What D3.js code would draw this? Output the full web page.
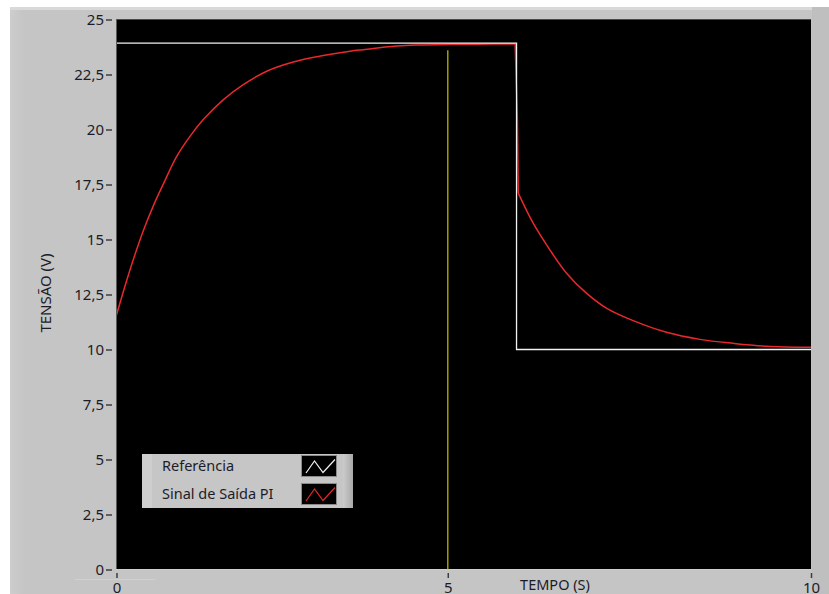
<!DOCTYPE html>
<html>
<head>
<meta charset="utf-8">
<script src="https://cdn.jsdelivr.net/npm/d3@7"></script>
<style>
  html, body { margin: 0; padding: 0; background: #ffffff; }
  svg { display: block; }
  text { font-family: "Noto Sans", "Open Sans", sans-serif; }
</style>
</head>
<body>
<svg id="chart" width="829" height="594"></svg>
<script>
// Setpoint (reference) signal: step from ~24 V down to 10 V
const refTime  = [0, 5.76, 5.76, 10];
const refValue = [23.93, 23.93, 10, 10];

// PI controller output samples
const piTime  = [0, 0.12, 0.24, 0.386, 0.53, 0.674, 0.867, 1.058, 1.25, 1.54, 1.826,
                 2.163, 2.546, 2.978, 3.362, 3.55, 4.035, 4.32, 4.80, 5.2, 5.74,
                 5.772, 5.785, 6.0, 6.24, 6.48, 6.77, 7.06, 7.44, 7.92, 8.40,
                 8.88, 9.36, 10.0];
const piValue = [11.57, 12.86, 14.07, 15.40, 16.53, 17.52, 18.78, 19.69, 20.45, 21.36, 22.04,
                 22.65, 23.07, 23.36, 23.56, 23.63, 23.79, 23.84, 23.87, 23.88, 23.89,
                 20.52, 17.11, 15.74, 14.53, 13.47, 12.55, 11.87, 11.31, 10.78, 10.46,
                 10.28, 10.15, 10.10];

// Cursor marker
const cursorTime = [4.77, 4.77];
const cursorValue = [0, 23.6];

// Axis ticks
const xTicks = [0, 4.77, 10];
const yTicks = [0, 2.5, 5, 7.5, 10, 12.5, 15, 17.5, 20, 22.5, 25];

// Legend
const legendLabels = ["Referência", "Sinal de Saída PI"];
const legendColors = ["#f2f2f2", "#e8282c"];

const svg = d3.select("#chart");

// ---- front panel background ----
const defs = svg.append("defs");
const gLeft = defs.append("linearGradient").attr("id", "edgeLeft");
gLeft.append("stop").attr("offset", "0%").attr("stop-color", "#cdcdcd");
gLeft.append("stop").attr("offset", "100%").attr("stop-color", "#c5c5c5");
const gLeg = defs.append("linearGradient").attr("id", "legRight");
gLeg.append("stop").attr("offset", "0%").attr("stop-color", "#cbcbcb");
gLeg.append("stop").attr("offset", "100%").attr("stop-color", "#a9a9a9");

svg.append("rect").attr("x", 10).attr("y", 7).attr("width", 819).attr("height", 587)
   .attr("fill", "#c5c5c5");
svg.append("rect").attr("x", 10).attr("y", 7).attr("width", 802).attr("height", 3)
   .attr("fill", "#d9d9d9");
svg.append("rect").attr("x", 10).attr("y", 10).attr("width", 14).attr("height", 584)
   .attr("fill", "url(#edgeLeft)");
svg.append("rect").attr("x", 812).attr("y", 7).attr("width", 17).attr("height", 587)
   .attr("fill", "#bfbfbf");

// ---- plot area ----
const plot = { left: 116, top: 19, right: 812, bottom: 570 };

const x = d3.scaleLinear().domain([0, 10]).range([116.5, 811]);
const y = d3.scaleLinear().domain([0, 25]).range([569.5, 19.5]);

svg.append("rect")
   .attr("x", plot.left).attr("y", plot.top)
   .attr("width", plot.right - plot.left).attr("height", plot.bottom - plot.top)
   .attr("fill", "#000000");

// inset frame
svg.append("line").attr("x1", plot.left).attr("x2", plot.right).attr("y1", 19.5).attr("y2", 19.5)
   .attr("stroke", "#4a4a4a");
svg.append("line").attr("x1", 116.5).attr("x2", 116.5).attr("y1", plot.top).attr("y2", plot.bottom)
   .attr("stroke", "#5a5a5a");
svg.append("line").attr("x1", plot.left).attr("x2", plot.right).attr("y1", 569.5).attr("y2", 569.5)
   .attr("stroke", "#cfcfcf");
svg.append("line").attr("x1", 811.5).attr("x2", 811.5).attr("y1", plot.top).attr("y2", plot.bottom)
   .attr("stroke", "#c2c2c2");

// ---- axes ----
const ptFmt = d3.formatLocale({ decimal: ",", thousands: ".", grouping: [3], currency: ["", ""] })
                .format(".3~g");

const yAxis = d3.axisLeft(y).tickValues(yTicks).tickSize(6).tickPadding(2).tickFormat(ptFmt);
const yg = svg.append("g").attr("transform", "translate(112,0)").call(yAxis);
yg.select(".domain").remove();
yg.selectAll(".tick line").attr("stroke", "#3c3c3c").attr("stroke-width", 1.5);
yg.selectAll(".tick text").attr("fill", "#1c1c28").attr("font-size", 15)
  .attr("font-family", "\"Noto Sans\", sans-serif");

const xAxis = d3.axisBottom(x).tickValues(xTicks).tickSize(5).tickPadding(4)
                .tickFormat(d => d3.format(".0f")(d));
const xg = svg.append("g").attr("transform", "translate(0,573)").call(xAxis);
xg.select(".domain").remove();
xg.selectAll(".tick line").attr("stroke", "#3c3c3c").attr("stroke-width", 1.5);
xg.selectAll(".tick text").attr("fill", "#1c1c28").attr("font-size", 15)
  .attr("font-family", "\"Noto Sans\", sans-serif");

// faint scale-slider trace under the origin
svg.append("line").attr("x1", 75).attr("x2", 156).attr("y1", 579.5).attr("y2", 579.5)
   .attr("stroke", "#d0d0d0");

// axis titles
svg.append("text").attr("transform", "translate(51,293) rotate(-90)")
   .attr("text-anchor", "middle").attr("font-size", 15).attr("fill", "#1c1c28")
   .text("TENSÃO (V)");
svg.append("text").attr("x", 555).attr("y", 590)
   .attr("text-anchor", "middle").attr("font-size", 14.5).attr("fill", "#1c1c28")
   .text("TEMPO (S)");

// ---- traces ----
const clip = defs.append("clipPath").attr("id", "plotClip");
clip.append("rect").attr("x", plot.left + 1).attr("y", plot.top + 1)
    .attr("width", plot.right - plot.left - 1.5).attr("height", plot.bottom - plot.top - 1.5);

const traces = svg.append("g").attr("clip-path", "url(#plotClip)");

const piData = piTime.map((t, i) => [t, piValue[i]]);
const refData = refTime.map((t, i) => [t, refValue[i]]);
const cursorData = cursorTime.map((t, i) => [t, cursorValue[i]]);

// The PI trace is smooth except at the setpoint step, so the step samples
// are joined with straight segments and the two smooth runs are splined.
const stepStart = piTime.findIndex(t => t >= 5.74);
const stepEnd = stepStart + 2;
const smooth = d3.line().x(d => x(d[0])).y(d => y(d[1])).curve(d3.curveCatmullRom.alpha(0.5));
const straight = d3.line().x(d => x(d[0])).y(d => y(d[1]));
const piRuns = [
  { data: piData.slice(0, stepStart + 1), gen: smooth },
  { data: piData.slice(stepStart, stepEnd + 1), gen: straight },
  { data: piData.slice(stepEnd), gen: smooth }
];

traces.selectAll("path.pi")
  .data(piRuns)
  .join("path")
  .attr("class", "pi")
  .attr("fill", "none")
  .attr("stroke", legendColors[1])
  .attr("stroke-width", 1.5)
  .attr("stroke-linejoin", "round")
  .attr("d", r => r.gen(r.data));

traces.append("path")
  .datum(refData)
  .attr("fill", "none")
  .attr("stroke", legendColors[0])
  .attr("stroke-width", 1.3)
  .attr("d", straight);

traces.append("path")
  .datum(cursorData)
  .attr("fill", "none")
  .attr("stroke", "#a39d00")
  .attr("stroke-width", 1.5)
  .attr("d", straight);

// ---- legend ----
const leg = svg.append("g").attr("transform", "translate(142,454)");
leg.append("rect").attr("width", 211).attr("height", 54).attr("fill", "#c6c6c6");
leg.append("rect").attr("width", 10).attr("height", 54).attr("fill", "#cecece");
leg.append("rect").attr("x", 201).attr("width", 10).attr("height", 54).attr("fill", "url(#legRight)");

legendLabels.forEach((label, i) => {
  const row = leg.append("g").attr("transform", `translate(0,${i * 28})`);
  row.append("text").attr("x", 20).attr("y", 17).attr("font-size", 14.5)
     .attr("fill", "#1c1c28").text(label);
  row.append("rect").attr("x", 159.5).attr("y", 1.5).attr("width", 35).attr("height", 21)
     .attr("fill", "#000").attr("stroke", "#8a8a8a").attr("stroke-width", 1);
  row.append("path")
     .attr("d", "M164,19 L172.5,7 L181,18.5 L193,5.5")
     .attr("fill", "none").attr("stroke", legendColors[i]).attr("stroke-width", 1.2);
});
</script>
</body>
</html>
